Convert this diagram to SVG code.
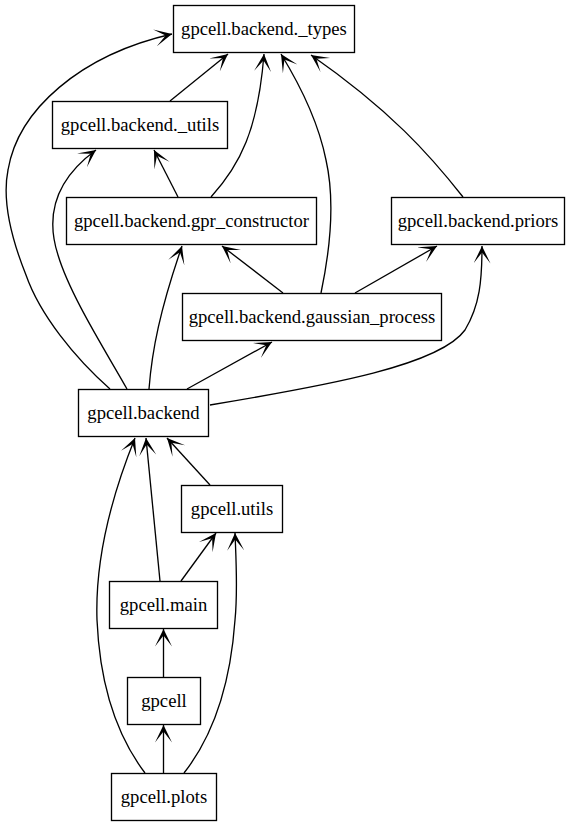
<svg xmlns="http://www.w3.org/2000/svg" width="574" height="827" viewBox="0 0 574 827">
<style>
.node rect{fill:#fff;stroke:#000;stroke-width:1.33}
.node text{font-family:"Liberation Serif","Tinos","Nimbus Roman","FreeSerif","DejaVu Serif",Times,serif;font-size:18.67px;fill:#000;text-anchor:middle}
.edges path{fill:none;stroke:#000;stroke-width:1.33;marker-end:url(#vee)}
</style>
<defs>
<marker id="vee" markerUnits="userSpaceOnUse" markerWidth="18" markerHeight="18" viewBox="0 0 18 18" refX="17.5" refY="8.5" orient="auto">
<path d="M17.5,8.5 L0,0 L11,8.5 L0,17 Z" fill="#000" stroke="none"/>
</marker>
</defs>
<rect width="574" height="827" fill="#fff"/>
<g class="edges">
<path d="M170,101 L228,54"/>
<path d="M178,197 L154,150"/>
<path d="M211,197 C240,165 258,130 264,54"/>
<path d="M321,293 C330,250 335,200 326,160 C318,120 300,85 281,54"/>
<path d="M463,197 C430,155 390,110 311,55"/>
<path d="M283,293 L222,246"/>
<path d="M355,293 L437,246"/>
<path d="M110,389 C75,358 40,315 26,275 C12,240 2,200 8,170 C18,110 80,55 172,34"/>
<path d="M127,389 C105,350 70,295 58,255 C45,215 55,180 96,150"/>
<path d="M149,389 C152,350 160,310 182,246"/>
<path d="M187,389 L272,342"/>
<path d="M210,405 C330,385 440,365 465,330 C480,305 482,280 482,246"/>
<path d="M210,485 L167,438"/>
<path d="M160,581 L146,438"/>
<path d="M181,581 L216,533"/>
<path d="M145,773 C120,740 100,690 97,620 C95,560 110,500 135,438"/>
<path d="M184,773 C210,740 230,690 235,620 C238,590 236,560 235,533"/>
<path d="M163.5,773 L163.5,725"/>
<path d="M163.5,677 L163.5,629"/>
</g>
<g id="types" class="node"><rect x="173.5" y="5.5" width="181" height="47"/><text x="264" y="35">gpcell.backend._types</text></g>
<g id="butils" class="node"><rect x="52.5" y="101.5" width="175" height="47"/><text x="140" y="131">gpcell.backend._utils</text></g>
<g id="gpr" class="node"><rect x="66.5" y="197.5" width="250" height="47"/><text x="191.5" y="227">gpcell.backend.gpr_constructor</text></g>
<g id="priors" class="node"><rect x="391.5" y="197.5" width="173" height="47"/><text x="478" y="227">gpcell.backend.priors</text></g>
<g id="gp" class="node"><rect x="182.5" y="293.5" width="259" height="47"/><text x="312" y="323">gpcell.backend.gaussian_process</text></g>
<g id="backend" class="node"><rect x="78.5" y="389.5" width="130" height="47"/><text x="143.5" y="419">gpcell.backend</text></g>
<g id="utils" class="node"><rect x="181.5" y="485.5" width="101" height="47"/><text x="232" y="515">gpcell.utils</text></g>
<g id="main" class="node"><rect x="109.5" y="581.5" width="108" height="47"/><text x="163.5" y="611">gpcell.main</text></g>
<g id="gpcell" class="node"><rect x="127.5" y="677.5" width="73" height="47"/><text x="164" y="707">gpcell</text></g>
<g id="plots" class="node"><rect x="111.5" y="773.5" width="105" height="47"/><text x="164" y="803">gpcell.plots</text></g>
</svg>
